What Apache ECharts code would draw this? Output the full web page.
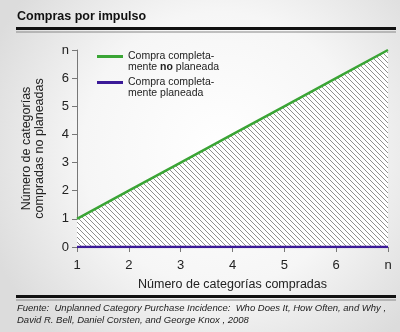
<!DOCTYPE html>
<html>
<head>
<meta charset="utf-8">
<script src="https://cdn.jsdelivr.net/npm/echarts@6/dist/echarts.min.js"></script>
<style>
  html, body { margin: 0; padding: 0; }
  #chart { width: 400px; height: 332px; }
</style>
</head>
<body>
<div id="chart"></div>
<script>
// Categories bought (x) and unplanned categories (y); "n" stands for the last step
const categories = ['1', '2', '3', '4', '5', '6', 'n'];
const noPlaneada = [1, 2, 3, 4, 5, 6, 7];
const planeada = [0, 0, 0, 0, 0, 0, 0];
const yTickLabels = ['0', '1', '2', '3', '4', '5', '6', 'n'];

const FONT = '"Liberation Sans", Arial, sans-serif';

// Diagonal hatch used to fill the region under the unplanned line
function hatch() {
  const s = 5;
  const c = document.createElement('canvas');
  c.width = s; c.height = s;
  const g = c.getContext('2d');
  g.fillStyle = '#ffffff';
  g.fillRect(0, 0, s, s);
  g.strokeStyle = '#8f8f8f';
  g.lineWidth = 1;
  g.beginPath();
  g.moveTo(-1, -1); g.lineTo(s + 1, s + 1);
  g.moveTo(-1, s - 1); g.lineTo(1, s + 1);
  g.moveTo(s - 1, -1); g.lineTo(s + 1, 1);
  g.stroke();
  return c;
}

const chart = echarts.init(document.getElementById('chart'));
chart.setOption({
  backgroundColor: {
    type: 'radial', x: 0.55, y: 0.45, r: 0.75,
    colorStops: [
      { offset: 0, color: '#ffffff' },
      { offset: 0.55, color: '#f6f6f6' },
      { offset: 1, color: '#dcdcdc' }
    ]
  },
  animation: false,
  title: {
    text: 'Compras por impulso',
    left: 12, top: 5,
    textStyle: { fontFamily: FONT, fontSize: 12.5, fontWeight: 'bold', color: '#111' }
  },
  graphic: [
    { type: 'rect', shape: { x: 16, y: 27, width: 380, height: 3 }, style: { fill: '#111' } },
    { type: 'rect', shape: { x: 16, y: 31.5, width: 380, height: 1 }, style: { fill: '#888' } },
    { type: 'rect', shape: { x: 16, y: 295, width: 380, height: 3 }, style: { fill: '#111' } },
    { type: 'rect', shape: { x: 16, y: 299.5, width: 380, height: 1 }, style: { fill: '#888' } },
    {
      type: 'text', left: 17, top: 302,
      style: {
        text: 'Fuente:  Unplanned Category Purchase Incidence:  Who Does It, How Often, and Why ,\nDavid R. Bell, Daniel Corsten, and George Knox , 2008',
        font: 'italic 9.5px ' + FONT, fill: '#222', lineHeight: 12
      }
    }
  ],
  legend: {
    orient: 'vertical',
    left: 92, top: 35,
    itemWidth: 26, itemHeight: 3, itemGap: -7,
    icon: 'rect',
    data: ['no', 'si'],
    // a blank first row keeps the swatch level with the first text row
    formatter: function (name) {
      return name === 'no'
        ? '{e| }\n{a|Compra completa-}\n{a|mente }{b|no}{a| planeada}'
        : '{e| }\n{a|Compra completa-}\n{a|mente planeada}';
    },
    textStyle: {
      rich: {
        e: { fontSize: 10.5, lineHeight: 11 },
        a: { fontFamily: FONT, fontSize: 10.5, color: '#222', lineHeight: 11 },
        b: { fontFamily: FONT, fontSize: 10.5, fontWeight: 'bold', color: '#222', lineHeight: 11 }
      }
    }
  },
  grid: { left: 77, right: 12, top: 50, bottom: 85 },
  xAxis: {
    type: 'category',
    data: categories,
    boundaryGap: false,
    name: 'Número de categorías compradas',
    nameLocation: 'middle',
    nameGap: 31,
    nameTextStyle: { fontFamily: FONT, fontSize: 12.5, color: '#222' },
    axisLine: { lineStyle: { color: '#777', width: 1 } },
    axisTick: { alignWithLabel: true, length: 5, lineStyle: { color: '#777' } },
    axisLabel: { fontFamily: FONT, fontSize: 13, color: '#222', margin: 12 },
    splitLine: { show: false }
  },
  yAxis: {
    type: 'value',
    min: 0, max: 7, interval: 1,
    name: 'Número de categorías\ncompradas no planeadas',
    nameLocation: 'middle',
    nameGap: 31,
    nameTextStyle: { fontFamily: FONT, fontSize: 12.5, color: '#222', lineHeight: 13 },
    axisLine: { show: true, lineStyle: { color: '#777', width: 1 } },
    axisTick: { show: true, length: 5, lineStyle: { color: '#777' } },
    axisLabel: {
      fontFamily: FONT, fontSize: 13, color: '#222', margin: 8,
      formatter: function (v) { return yTickLabels[v]; }
    },
    splitLine: { show: false }
  },
  series: [
    {
      name: 'no',
      type: 'line',
      data: noPlaneada,
      symbol: 'none',
      color: '#3aa535',
      lineStyle: { color: '#3aa535', width: 2.5 },
      areaStyle: { color: { image: hatch(), repeat: 'repeat' }, opacity: 1 },
      z: 3
    },
    {
      name: 'si',
      type: 'line',
      data: planeada,
      symbol: 'none',
      color: '#3b1a98',
      lineStyle: { color: '#3b1a98', width: 2.5 },
      z: 4
    }
  ]
});
</script>
</body>
</html>
